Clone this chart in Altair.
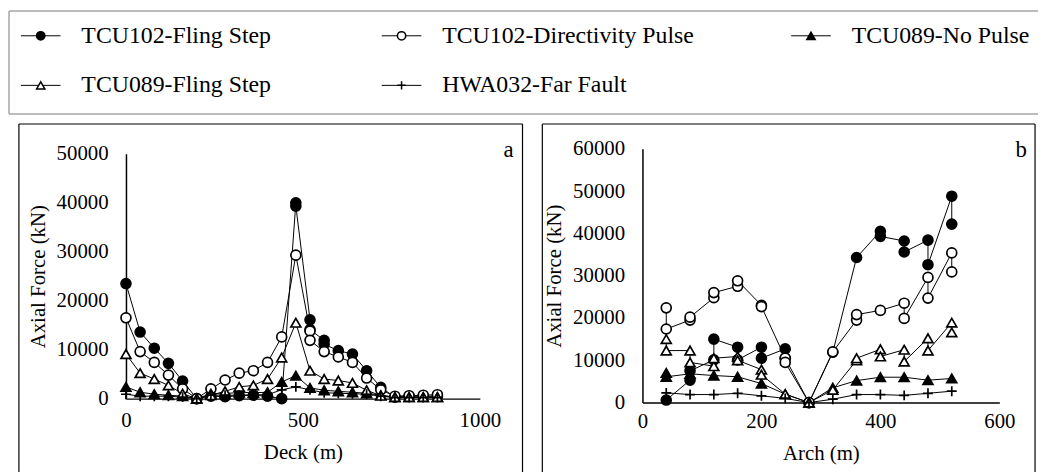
import altair as alt
import pandas as pd

FONT = "Liberation Serif"
SERIES = ["TCU102-Fling Step", "TCU102-Directivity Pulse", "TCU089-No Pulse",
          "TCU089-Fling Step", "HWA032-Far Fault"]
SHAPES = ["circle", "circle", "triangle-up", "triangle-up", "M-1,0H1M0,-1V1"]
FILLS = ["black", "white", "black", "white", "black"]

# ---------------- Panel a : Deck ----------------
deck_x = [0, 40, 80, 120, 160, 200, 240, 280, 320, 360, 400, 440, 480,
          520, 560, 600, 640, 680, 720, 760, 800, 840, 880]
a_fling102_x = [0, 40, 80, 120, 160, 200, 240, 280, 320, 360, 400, 440, 480, 480,
                520, 520, 560, 560, 600, 640, 680, 720, 760, 800, 840, 880]
a_fling102_y = [23500, 13600, 10300, 7200, 3600, 0, 500, 400, 600, 700, 500, 0, 40000, 39300,
                16100, 14100, 11900, 11100, 9800, 9100, 5700, 2300, 300, 500, 500, 500]
a_dir102_x = [0, 40, 80, 120, 160, 200, 240, 280, 320, 360, 400, 440, 480,
              520, 520, 560, 600, 640, 680, 720, 760, 800, 840, 880]
a_dir102_y = [16500, 9600, 7400, 4800, 2000, 0, 2000, 3800, 5200, 5700, 7400, 12600, 29300,
              13800, 11900, 9600, 8500, 7400, 4200, 1800, 500, 600, 700, 800]
a_nopulse089_y = [2400, 1300, 900, 700, 500, 0, 1000, 1000, 1300, 1200, 1300, 3400, 4700,
                  2200, 1700, 1500, 1300, 1100, 700, 300, 300, 300, 300]
a_fling089_y = [9100, 5200, 4000, 2700, 1000, 0, 700, 1500, 2400, 2700, 4000, 8400, 15500,
                5700, 4000, 3700, 3200, 1700, 600, 300, 300, 300, 300]
a_far032_y = [900, 500, 500, 500, 300, 0, 700, 700, 700, 800, 800, 1800, 2400,
              1800, 1200, 1100, 1000, 900, 500, 200, 200, 200, 200]

# ---------------- Panel b : Arch ----------------
b_fling102_x = [40, 80, 80, 120, 120, 160, 160, 200, 200, 240, 240, 280, 320, 360,
                400, 400, 440, 440, 480, 480, 520, 520]
b_fling102_y = [600, 5300, 7500, 10100, 15000, 13100, 10100, 13100, 10500, 12700, 10500, 0, 11900, 34300,
                40500, 39300, 38200, 35600, 38400, 32600, 48800, 42200]
b_dir102_x = [40, 40, 80, 80, 120, 120, 160, 160, 200, 200, 240, 240, 280, 320,
              360, 360, 400, 440, 440, 480, 480, 520, 520]
b_dir102_y = [22400, 17400, 19500, 20200, 24800, 26000, 27500, 28800, 23000, 22700, 10500, 9500, 0, 12000,
              19500, 20800, 21800, 23500, 19900, 29600, 24700, 35400, 30900]
b_nopulse089_x = [40, 40, 80, 120, 160, 200, 240, 280, 320, 360, 400, 440, 480, 520]
b_nopulse089_y = [7000, 6100, 6800, 6400, 6100, 4500, 2000, 0, 3500, 5200, 6000, 6000, 5300, 5700]
b_fling089_x = [40, 40, 80, 80, 120, 120, 160, 160, 200, 200, 240, 280, 320,
                360, 360, 400, 400, 440, 440, 480, 480, 520, 520]
b_fling089_y = [15000, 12300, 12300, 9500, 8600, 10500, 10900, 10000, 7800, 6600, 2000, 0, 3000,
                10000, 10500, 12600, 10900, 12500, 9700, 15200, 12300, 18900, 16600]
b_far032_x = [40, 80, 120, 160, 200, 240, 280, 320, 360, 400, 440, 480, 520]
b_far032_y = [2300, 1900, 1900, 2200, 1600, 1000, 0, 800, 1900, 1900, 1700, 2200, 2700]

deck_ticks = [0, 500, 1000]
deck_yticks = [0, 10000, 20000, 30000, 40000, 50000]
arch_ticks = [0, 200, 400, 600]
arch_yticks = [0, 10000, 20000, 30000, 40000, 50000, 60000]


def build(pairs):
    rows = []
    for s, (xs, ys) in zip(SERIES, pairs):
        for i, (x, y) in enumerate(zip(xs, ys)):
            rows.append({"series": s, "x": x, "y": y, "i": i})
    return pd.DataFrame(rows)


df_a = build([(a_fling102_x, a_fling102_y), (a_dir102_x, a_dir102_y),
              (deck_x, a_nopulse089_y), (deck_x, a_fling089_y), (deck_x, a_far032_y)])
df_b = build([(b_fling102_x, b_fling102_y), (b_dir102_x, b_dir102_y),
              (b_nopulse089_x, b_nopulse089_y), (b_fling089_x, b_fling089_y),
              (b_far032_x, b_far032_y)])

shape_scale = alt.Scale(domain=SERIES, range=SHAPES)
fill_scale = alt.Scale(domain=SERIES, range=FILLS)
one = pd.DataFrame({"k": [0]})


def panel(df, xdom, ydom, xticks, yticks, xtitle, w, h, ytop, xpad, box, letter):
    bl, bt, br, bb = box
    x = alt.X("x:Q", scale=alt.Scale(domain=xdom, nice=False, zero=False),
              axis=alt.Axis(values=xticks, title=xtitle, labelFlush=False, titlePadding=11,
                            labelPadding=xpad, format="d"))
    y = alt.Y("y:Q", scale=alt.Scale(domain=ydom, nice=False, range=[h, ytop]),
              axis=alt.Axis(values=yticks, title="Axial Force (kN)", labelPadding=18,
                            titlePadding=8, format="d"))
    base = alt.Chart(df)
    lines = base.mark_line(color="black", strokeWidth=1).encode(
        x=x, y=y, detail="series:N", order="i:Q")
    pts = base.mark_point(filled=True, stroke="black", strokeWidth=1.7, size=100, opacity=1).encode(
        x=x, y=y,
        shape=alt.Shape("series:N", scale=shape_scale, legend=None),
        fill=alt.Fill("series:N", scale=fill_scale, legend=None))
    frame = alt.Chart(one)
    left = frame.mark_rule(color="black", strokeWidth=1.2).encode(
        x=alt.value(bl), y=alt.value(bt), y2=alt.value(bb))
    right = frame.mark_rule(color="black", strokeWidth=1.2).encode(
        x=alt.value(br), y=alt.value(bt), y2=alt.value(bb))
    top = frame.mark_rule(color="black", strokeWidth=1.2).encode(
        x=alt.value(bl), x2=alt.value(br), y=alt.value(bt))
    lab = frame.mark_text(font=FONT, fontSize=23, align="center", baseline="middle",
                          color="black").encode(
        x=alt.value(br - 14), y=alt.value(1), text=alt.value(letter))
    return alt.layer(left, right, top, lines, pts, lab).properties(width=w, height=h)


pa = panel(df_a, [0, 1000], [0, 50000], deck_ticks, deck_yticks, "Deck (m)", 357, 252, 5, 11,
           (-108, -25, 400, 326), "a")
pb = panel(df_b, [0, 600], [0, 60000], arch_ticks, arch_yticks, "Arch (m)", 360, 256, 0, 8,
           (-101, -25, 396, 326), "b")

# ---------------- Legend ----------------
leg_cols = [-86, 278, 691]
leg_rows = [25, 75]
leg_pos = [(0, 0), (1, 0), (2, 0), (0, 1), (1, 1)]
leg = pd.DataFrame({
    "series": SERIES,
    "lx": [leg_cols[c] for c, r in leg_pos],
    "ly": [leg_rows[r] for c, r in leg_pos],
})
leg["x0"] = leg["lx"] - 20
leg["x1"] = leg["lx"] + 20
leg["tx"] = leg["lx"] + 41

lbase = alt.Chart(leg)
lframe = alt.Chart(one)
GRAY = "#a6a6a6"
lleft = lframe.mark_rule(color=GRAY, strokeWidth=1.5).encode(
    x=alt.value(-118), y=alt.value(0), y2=alt.value(104))
ltop = lframe.mark_rule(color=GRAY, strokeWidth=1.5).encode(
    x=alt.value(-118), x2=alt.value(920), y=alt.value(0))
lbot = lframe.mark_rule(color=GRAY, strokeWidth=1.5).encode(
    x=alt.value(-118), x2=alt.value(920), y=alt.value(104))
lline = lbase.mark_rule(color="black", strokeWidth=1).encode(
    x=alt.X("x0:Q", scale=None, axis=None), x2="x1:Q", y=alt.Y("ly:Q", scale=None, axis=None))
lpts = lbase.mark_point(filled=True, stroke="black", strokeWidth=1.5, size=70, opacity=1).encode(
    x=alt.X("lx:Q", scale=None, axis=None), y=alt.Y("ly:Q", scale=None, axis=None),
    shape=alt.Shape("series:N", scale=shape_scale, legend=None),
    fill=alt.Fill("series:N", scale=fill_scale, legend=None))
ltxt = lbase.mark_text(font=FONT, fontSize=24, align="left", baseline="middle", color="black").encode(
    x=alt.X("tx:Q", scale=None, axis=None), y=alt.Y("ly:Q", scale=None, axis=None), text="series:N")
legend = alt.layer(lleft, ltop, lbot, lline, lpts, ltxt).properties(width=357, height=104)

panels = alt.hconcat(pa, pb, spacing=164, bounds="flush").resolve_scale(x="independent", y="independent")
chart = alt.vconcat(legend, panels, spacing=35, bounds="flush").properties(
    padding=0, background="white"
).configure_view(stroke=None).configure_axis(
    grid=False, ticks=False, domainColor="black", domainWidth=1.5,
    labelFont=FONT, labelFontSize=21, labelColor="black",
    titleFont=FONT, titleFontSize=21, titleFontWeight="normal", titleColor="black"
)

chart.save("out.html", embed_options={"renderer": "svg", "actions": False})
